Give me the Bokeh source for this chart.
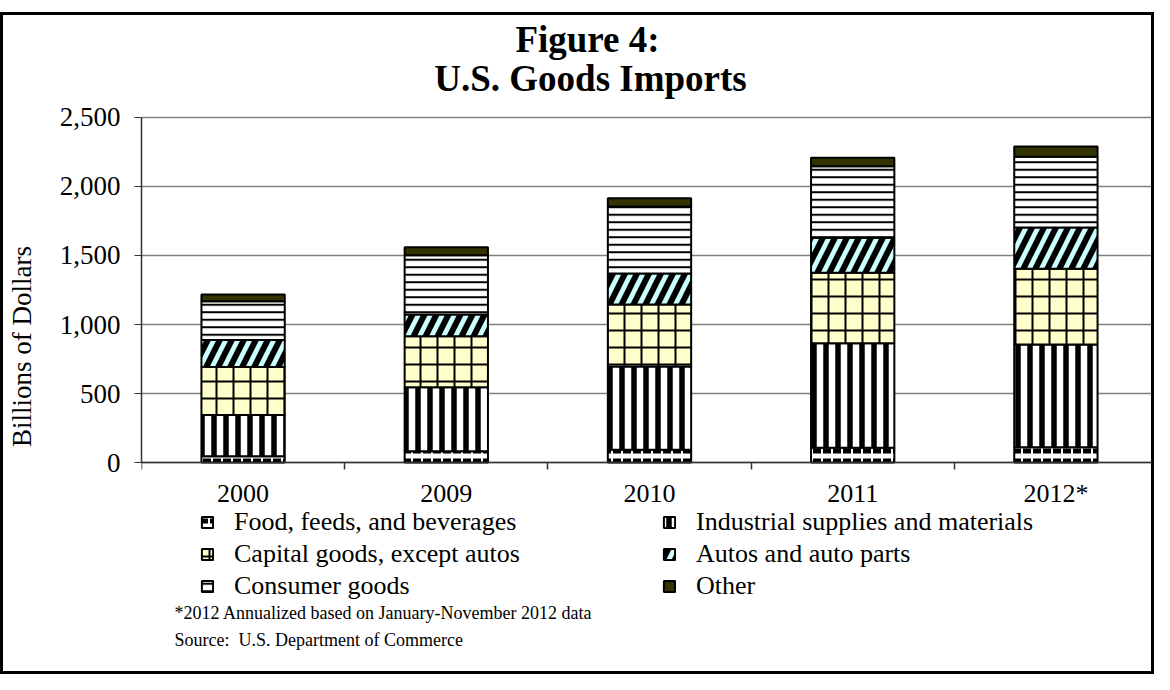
from bokeh.plotting import figure
from bokeh.models import (ColumnDataSource, Legend, LegendItem, Label, FixedTicker,
                          NumeralTickFormatter, Range1d)
from bokeh.embed import file_html
from bokeh.resources import INLINE

# ---------------- data ----------------
years = ["2000", "2009", "2010", "2011", "2012*"]
food = [46, 82, 92, 108, 110]
industrial = [299, 463, 603, 756, 745]
capital = [347, 370, 450, 510, 549]
autos = [195, 158, 225, 255, 299]
consumer = [281, 428, 484, 517, 512]
other = [49, 58, 60, 62, 75]
y_ticks = [0, 500, 1000, 1500, 2000, 2500]

series_names = ["Food, feeds, and beverages", "Industrial supplies and materials",
                "Capital goods, except autos", "Autos and auto parts",
                "Consumer goods", "Other"]
keys = ["food", "industrial", "capital", "autos", "consumer", "other"]

source = ColumnDataSource(dict(x=list(range(len(years))), food=food, industrial=industrial,
                               capital=capital, autos=autos, consumer=consumer, other=other))

FONT = "Liberation Serif"

# ---------------- layout geometry (pixels) ----------------
W, H, BORDER, TOP_MARGIN = 1154, 662, 3, 12
CANVAS_H = H - 2 * BORDER
PLOT_TOP_PX, PLOT_ZERO_PX = 101, 443          # canvas y of 2500 and of 0
upp = y_ticks[-1] / (PLOT_ZERO_PX - PLOT_TOP_PX)  # data units per pixel
y_end = y_ticks[-1] + PLOT_TOP_PX * upp
y_start = -(CANVAS_H - PLOT_ZERO_PX) * upp

p = figure(width=W, height=H, output_backend="svg", toolbar_location=None,
           x_range=Range1d(-0.5, len(years) - 0.5), y_range=Range1d(y_start, y_end),
           min_border_left=136, min_border_top=0, min_border_bottom=0, min_border_right=0,
           title=None)
p.styles = {"border": "3px solid black", "box-sizing": "border-box",
            "margin-top": f"{TOP_MARGIN}px"}
p.outline_line_color = None
p.background_fill_color = "white"
p.border_fill_color = "white"

renderers = p.vbar_stack(
    keys, x="x", width=0.41, source=source,
    fill_color=["white", "white", "#FFFFCC", "#CCFFFF", "white", "#333300"],
    hatch_pattern=["horizontal_dash", "vertical_line", "cross", "right_diagonal_line",
                   "horizontal_line", " "],
    hatch_color="black",
    hatch_weight=[5, 5.5, 2, 6, 2, 1],
    hatch_scale=[10, 12, 17, 24, 7.5, 12],
    line_color="black", line_width=2,
)

# axes
p.xgrid.visible = False
p.ygrid.grid_line_color = "#808080"
p.ygrid.grid_line_width = 1.5
p.yaxis.ticker = FixedTicker(ticks=y_ticks)
p.yaxis.bounds = (y_ticks[0], y_ticks[-1])
p.yaxis.formatter = NumeralTickFormatter(format="0,0")
p.yaxis.axis_label = "Billions of Dollars"
p.yaxis.axis_label_text_font = FONT
p.yaxis.axis_label_text_font_style = "normal"
p.yaxis.axis_label_text_font_size = "27px"
p.yaxis.axis_label_text_color = "black"
p.yaxis.axis_label_standoff = 20
p.yaxis.major_label_text_font = FONT
p.yaxis.major_label_text_font_size = "27px"
p.yaxis.major_label_text_color = "black"
p.yaxis.major_label_standoff = 14
p.yaxis.major_tick_out = 7
p.yaxis.major_tick_in = 0
p.yaxis.minor_tick_line_color = None
p.yaxis.axis_line_color = "#333333"
p.yaxis.axis_line_width = 1.5
p.yaxis.major_tick_line_color = "#333333"

p.xaxis.fixed_location = 0
p.xaxis.ticker = FixedTicker(ticks=list(range(len(years))),
                             minor_ticks=[i - 0.5 for i in range(len(years) + 1)])
p.xaxis.major_label_overrides = {i: y for i, y in enumerate(years)}
p.xaxis.major_label_text_font = FONT
p.xaxis.major_label_text_font_size = "26px"
p.xaxis.major_label_text_color = "black"
p.xaxis.major_label_standoff = 9
p.xaxis.major_tick_line_color = None
p.xaxis.major_tick_out = 0
p.xaxis.minor_tick_out = 7
p.xaxis.minor_tick_in = 0
p.xaxis.minor_tick_line_color = "#333333"
p.xaxis.minor_tick_line_width = 1.5
p.xaxis.axis_line_color = "#333333"
p.xaxis.axis_line_width = 1.5

# legend (two columns, column-major order)
items = [LegendItem(label=n, renderers=[r]) for n, r in zip(series_names, renderers)]
ordered = [items[0], items[2], items[4], items[1], items[3], items[5]]
lg = Legend(items=ordered, orientation="vertical", ncols=2,
            location=(59, 76), padding=0, margin=0, spacing=2,
            glyph_width=14, glyph_height=14, label_height=20, label_standoff=20,
            label_width=426,
            label_text_font=FONT, label_text_font_size="26px", label_text_color="black",
            border_line_color=None, background_fill_alpha=0)
p.add_layout(lg, "center")

# titles and notes (canvas pixel positions)
def add_text(x, y, text, size, style="normal", align="left"):
    p.add_layout(Label(x=x, y=y, x_units="canvas", y_units="canvas", text=text,
                       text_align=align, text_baseline="middle", text_font=FONT,
                       text_font_size=size, text_font_style=style, text_color="black"))

add_text(581, 21, "Figure 4:", "37px", "bold", "center")
add_text(584, 60, "U.S. Goods Imports", "37px", "bold", "center")
add_text(168, 594, "*2012 Annualized based on January-November 2012 data", "18px")
add_text(168, 621, "Source:\u00a0 U.S. Department of Commerce", "18px")

open("out.html", "w").write(file_html(p, INLINE))
